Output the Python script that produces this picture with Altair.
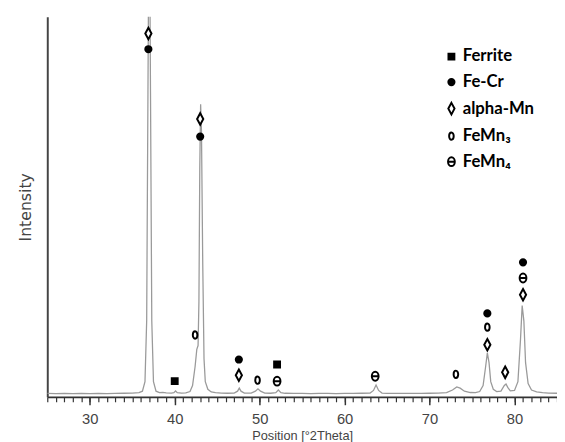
import altair as alt
import pandas as pd

# XRD pattern
two_theta = [25.0, 26, 27, 28, 29, 30, 31, 32, 33, 34, 35, 35.8, 36.2, 36.5, 36.7, 36.85, 36.95,
             37.05, 37.15, 37.3, 37.5, 37.8, 38.2, 38.6, 39, 39.6, 39.9, 40.1, 40.3, 40.8, 41.3,
             41.8, 42.1, 42.4, 42.6, 42.75, 42.85, 42.95, 43.05, 43.15, 43.3, 43.45, 43.6, 43.9,
             44.3, 44.8, 45.5, 46.2, 47.0, 47.4, 47.6, 47.8, 48.2, 49.0, 49.5, 49.8, 50.1, 50.6,
             51.3, 51.9, 52.2, 52.5, 53.0, 54, 55, 56, 57, 58, 59, 60, 61, 62, 63, 63.4, 63.7,
             64.0, 64.4, 65, 66, 67, 68, 69, 70, 71, 72, 72.7, 73.2, 73.6, 74.1, 74.8, 75.4, 75.9,
             76.3, 76.6, 76.8, 77.0, 77.2, 77.5, 77.9, 78.4, 78.8, 79.0, 79.2, 79.5, 80.0, 80.4,
             80.7, 80.9, 81.1, 81.3, 81.6, 82.0, 82.6, 83.3, 84, 85]
intensity = [90, 85, 92, 88, 90, 86, 92, 88, 90, 95, 100, 110, 150, 400, 2000, 8000, 12000,
             12000, 8000, 2000, 400, 150, 110, 120, 105, 100, 110, 155, 110, 100, 105,
             140, 300, 800, 1250, 1350, 2500, 6000, 7700, 7000, 3500, 1000, 400, 200,
             130, 110, 100, 95, 100, 150, 230, 150, 100, 100, 150, 210, 150, 100,
             95, 110, 180, 110, 95, 90, 92, 88, 90, 90, 88, 90, 92, 95, 100, 170, 310,
             170, 100, 92, 90, 92, 90, 92, 95, 100, 110, 180, 260, 230, 150, 115, 110, 140,
             300, 800, 1160, 900, 400, 200, 140, 150, 300, 340, 250, 160, 170, 400,
             1500, 2400, 2000, 900, 350, 180, 130, 110, 100, 95]

# Phase markers above peaks
phases = ["Ferrite", "Fe-Cr", "alpha-Mn", "FeMn₃", "FeMn₄"]
marker_pos = [40.0, 52.05,
              36.9, 43.0, 47.55, 76.8, 81.0,
              36.9, 43.0, 47.55, 76.8, 78.9, 81.0,
              42.4, 49.75, 73.1, 76.8,
              52.05, 63.6, 81.0]
marker_int = [413, 853,
              9147, 6848, 982, 2196, 3540,
              9560, 7313, 568, 1370, 646, 2687,
              1628, 439, 594, 1835,
              413, 543, 3127]
marker_phase = (["Ferrite"] * 2 + ["Fe-Cr"] * 5 + ["alpha-Mn"] * 6
                + ["FeMn₃"] * 4 + ["FeMn₄"] * 3)

major_ticks = [30, 40, 50, 60, 70, 80]
minor_ticks = list(range(25, 86))

curve = pd.DataFrame({"x": two_theta, "y": intensity})
markers = pd.DataFrame({"x": marker_pos, "y": marker_int, "phase": marker_phase})

xscale = alt.Scale(domain=[25, 85], nice=False, zero=False)
yscale = alt.Scale(domain=[0, 10000], nice=False)

# symbol outlines (unit box -1..1, all drawn at one common size)
square = "M-0.4,-0.4L0.4,-0.4L0.4,0.4L-0.4,0.4Z"
dot = "M0,-0.42A0.42,0.42 0 1,1 0,0.42A0.42,0.42 0 1,1 0,-0.42Z"
diamond = "M0,-0.78L0.42,0L0,0.78L-0.42,0Z"
small_o = "M0,-0.5A0.31,0.5 0 1,1 0,0.5A0.31,0.5 0 1,1 0,-0.5Z"
theta = ("M0,-0.6A0.46,0.6 0 1,1 0,0.6A0.46,0.6 0 1,1 0,-0.6Z "
         "M-0.46,0L0.46,0")

yaxis = alt.Axis(ticks=False, labels=False, grid=False, domainColor="#444",
                 domainWidth=2, title="Intensity", titleFont="DejaVu Sans",
                 titleFontSize=16, titleFontWeight="normal", titleColor="#444",
                 titlePadding=14)

line = alt.Chart(curve).mark_line(color="#9a9a9a", strokeWidth=1.3, clip=True).encode(
    x=alt.X("x:Q", scale=xscale,
            axis=alt.Axis(values=major_ticks, tickSize=8, tickWidth=1.5, tickColor="#333",
                          domainColor="#333", domainWidth=2, labelFont="Liberation Sans",
                          labelFontSize=15, labelColor="#444", labelPadding=7,
                          title="Position [°2Theta]", titleFont="Liberation Sans",
                          titleFontSize=13, titleFontWeight="normal", titleColor="#444",
                          titlePadding=3, grid=False, orient="bottom")),
    y=alt.Y("y:Q", scale=yscale, axis=yaxis),
)

legend = alt.Legend(title=None, orient="none", legendX=403, legendY=32,
                    labelFont="Lato", labelFontWeight="bold",
                    labelFontSize=17, labelColor="black", symbolSize=225,
                    labelOffset=3, rowPadding=8, symbolStrokeWidth=2)

pts = alt.Chart(markers).mark_point(filled=True, strokeWidth=2, opacity=1,
                                    size=225).encode(
    x=alt.X("x:Q", scale=xscale,
            axis=alt.Axis(values=minor_ticks, tickSize=5, tickWidth=1.2, tickColor="#333",
                          labels=False, domain=False, title=None, grid=False,
                          orient="bottom")),
    y=alt.Y("y:Q", scale=yscale, axis=yaxis),
    shape=alt.Shape("phase:N", sort=phases,
                    scale=alt.Scale(domain=phases,
                                    range=[square, dot, diamond, small_o, theta]),
                    legend=legend),
    fill=alt.Fill("phase:N", sort=phases,
                  scale=alt.Scale(domain=phases,
                                  range=["black", "black", "white", "white", "white"]),
                  legend=legend),
    stroke=alt.Stroke("phase:N", sort=phases,
                      scale=alt.Scale(domain=phases,
                                      range=["black", "black", "black", "black", "black"]),
                      legend=legend),
)

chart = alt.layer(line, pts).resolve_axis(x="independent").properties(
    width=519, height=387,
    autosize=alt.AutoSizeParams(type="none"),
    padding={"left": 40, "top": 5, "right": 0, "bottom": 42},
).configure_view(stroke=None)

chart.save("out.html", embed_options={"renderer": "svg", "actions": False})
